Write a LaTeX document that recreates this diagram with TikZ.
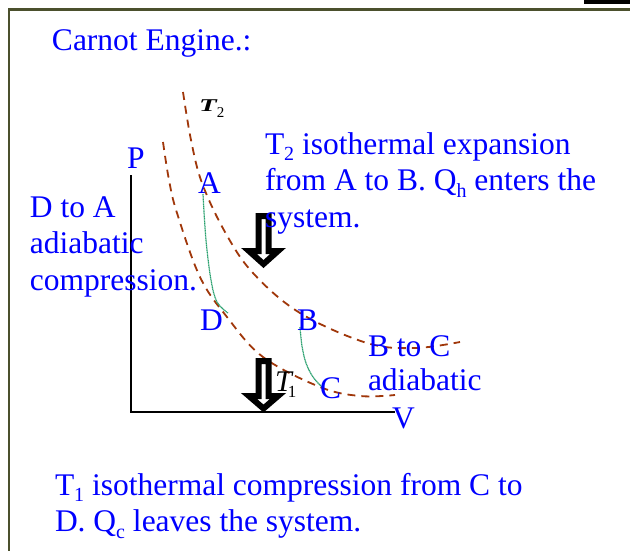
\documentclass[tikz,border=0pt]{standalone}
\usepackage{fontspec}
\setmainfont{Liberation Serif}
\begin{document}
\begin{tikzpicture}[x=1pt,y=-1pt,
  txt/.style={anchor=base west,inner sep=0pt,outer sep=0pt,text=blue,align=left,
    font=\fontsize{31.5}{36.5}\selectfont},
  iso/.style={draw=isobrown,line width=1.8pt,dash pattern=on 8pt off 6pt},
  adia/.style={draw=adgreen,line width=1.2pt,dash pattern=on 1.2pt off 0.5pt},
  bigarrow/.style={draw=black,fill=white,line width=6pt,line join=miter,miter limit=4},
  axis/.style={draw=black,line width=1.5pt}]
\definecolor{isobrown}{RGB}{160,55,10}
\definecolor{adgreen}{RGB}{40,160,110}
\definecolor{frameol}{RGB}{75,80,45}
\newcommand{\sbs}[1]{\raisebox{-0.22em}{\fontsize{20}{20}\selectfont #1}}
\useasboundingbox (0,0) rectangle (630,550);
\fill[white] (0,0) rectangle (630,550);
% frame
\draw[frameol,line width=2.2pt] (9,560) -- (9,9.5) -- (640,9.5);
\fill[black] (584,0) rectangle (630,4);
% axes
\coordinate (O) at (131,412);
\coordinate (ytop) at (131,175);
\coordinate (xend) at (395,412);
\draw[axis] (ytop) -- (O) -- (xend);
% isotherms
\draw[iso] plot[smooth,tension=0.6] coordinates {(183,92) (191,140) (202,183) (225,232) (253,273) (300,313) (367,343) (415,348) (460,342)};
\draw[iso] plot[smooth,tension=0.6] coordinates {(163,142) (169,180) (177,213) (200,277) (227,317) (263,357) (320,387) (360,396) (395,395)};
% adiabats
\draw[adia] plot[smooth,tension=0.6] coordinates {(203,194) (206,240) (211,280) (217,302) (228,313)};
\draw[adia] plot[smooth,tension=0.6] coordinates {(300,327) (302,346) (306,363) (313,377) (322,387)};
% arrows
\draw[bigarrow] (258.5,216) -- (268.5,216) -- (268.5,251) -- (278,251) -- (263.5,264) -- (249,251) -- (258.5,251) -- cycle;
\draw[bigarrow] (258.5,361) -- (268.5,361) -- (268.5,396) -- (278,396) -- (263.5,408.5) -- (249,396) -- (258.5,396) -- cycle;
% labels
\node[txt] (title) at (52,50) {Carnot Engine.:};
\node[anchor=base west,inner sep=0pt] (T2) at (199,111) {\fontsize{18}{18}\selectfont\bfseries\itshape\scalebox{1.6}[1]{T}\fontsize{15}{15}\selectfont\mdseries\upshape\raisebox{-0.45em}{2}};
\node[txt] (P) at (127,168) {P};
\node[txt] (V) at (392,428) {V};
\node[txt] (A) at (198,193) {A};
\node[txt] (D) at (200,330) {D};
\node[txt] (B) at (297,330) {B};
\node[txt] (C) at (320,398) {C};
\node[anchor=base west,inner sep=0pt] (T1) at (275,391) {\fontsize{30}{30}\selectfont\itshape T\upshape\kern-4pt\fontsize{17}{17}\selectfont\raisebox{-0.38em}{1}};
\node[txt] (iso2) at (265,227) {T\sbs{2} isothermal expansion\\from A to B. Q\sbs{h} enters the\\system.};
\node[txt] (da) at (30,290) {D to A\\adiabatic\\compression.};
\node[txt,font=\fontsize{31.5}{34}\selectfont] (bc) at (368,390) {B to C\\adiabatic};
\node[txt] (iso1) at (55,531.5) {T\sbs{1} isothermal compression from C to\\D. Q\sbs{c} leaves the system.};
\end{tikzpicture}
\end{document}
